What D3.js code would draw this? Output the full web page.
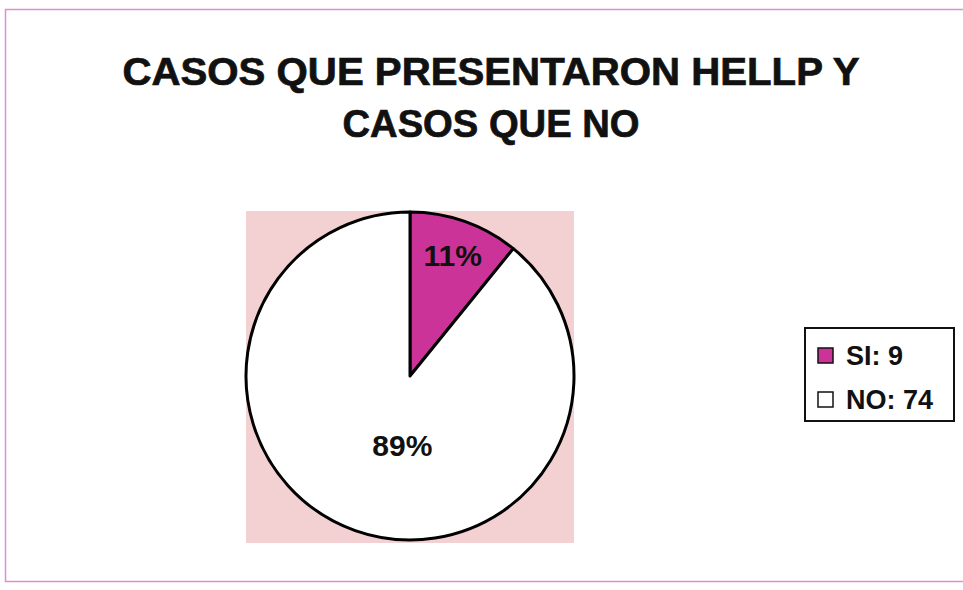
<!DOCTYPE html>
<html>
<head>
<meta charset="utf-8">
<script src="https://cdn.jsdelivr.net/npm/d3@7"></script>
<style>
  html, body { margin: 0; padding: 0; background: #fff; }
  svg { display: block; font-family: "Liberation Sans", Arial, sans-serif; }
</style>
</head>
<body>
<script>
// chart data
const titleLines = ["CASOS QUE PRESENTARON HELLP Y", "CASOS QUE NO"];
const categories = ["SI", "NO"];
const counts = [9, 74];
const sliceColors = ["#cc3399", "#ffffff"];

const svgWidth = 963;
const svgHeight = 590;

const svg = d3.select("body")
    .append("svg")
    .attr("width", svgWidth)
    .attr("height", svgHeight);

// outer chart border (pink)
svg.append("rect")
    .attr("x", 5.5)
    .attr("y", 9.5)
    .attr("width", 975)
    .attr("height", 572)
    .attr("fill", "#fff")
    .attr("stroke", "#dc8fd2")
    .attr("stroke-width", 1.5);

// title
const titleWidths = [737, 297];
svg.append("g")
    .selectAll("text")
    .data(titleLines)
    .enter()
    .append("text")
    .attr("x", 491)
    .attr("y", (d, i) => 85 + i * 52)
    .attr("text-anchor", "middle")
    .attr("font-size", 38)
    .attr("font-weight", "bold")
    .attr("fill", "#111")
    .attr("stroke", "#111")
    .attr("stroke-width", 0.7)
    .attr("textLength", (d, i) => titleWidths[i])
    .attr("lengthAdjust", "spacingAndGlyphs")
    .text(d => d);

// plot area
const plot = {left: 246, top: 211, width: 328, height: 332};
svg.append("rect")
    .attr("x", plot.left)
    .attr("y", plot.top)
    .attr("width", plot.width)
    .attr("height", plot.height)
    .attr("fill", "#f3d0d1");

const radius = 164;
const cx = plot.left + plot.width / 2;
const cy = plot.top + plot.height / 2 - 1;

const pie = d3.pie().sort(null).value(d => d);
const arcs = pie(counts);
const total = d3.sum(counts);

const arc = d3.arc().innerRadius(0).outerRadius(radius);

const g = svg.append("g")
    .attr("transform", `translate(${cx},${cy})`);

g.selectAll("path")
    .data(arcs)
    .enter()
    .append("path")
    .attr("d", arc)
    .attr("fill", (d, i) => sliceColors[i])
    .attr("stroke", "#000")
    .attr("stroke-width", 3)
    .attr("stroke-linejoin", "round");

// percentage labels
const labelRadius = [0.78, 0.45];
const labelShift = [0, 17];
g.selectAll("text.pct")
    .data(arcs)
    .enter()
    .append("text")
    .attr("class", "pct")
    .attr("transform", (d, i) => {
        const r = radius * labelRadius[i];
        const c = d3.arc().innerRadius(r).outerRadius(r).centroid(d);
        return `translate(${c[0] + labelShift[i]},${c[1]})`;
    })
    .attr("dy", "0.36em")
    .attr("text-anchor", "middle")
    .attr("font-size", 30)
    .attr("font-weight", "bold")
    .attr("fill", "#111")
    .text(d => Math.round(d.value / total * 100) + "%");

// legend
const legend = svg.append("g")
    .attr("transform", "translate(805,328)");

legend.append("rect")
    .attr("width", 149)
    .attr("height", 93)
    .attr("fill", "#fff")
    .attr("stroke", "#111")
    .attr("stroke-width", 2);

const items = legend.selectAll("g.item")
    .data(categories)
    .enter()
    .append("g")
    .attr("class", "item")
    .attr("transform", (d, i) => `translate(13,${20 + i * 44})`);

items.append("rect")
    .attr("width", 15)
    .attr("height", 15)
    .attr("fill", (d, i) => sliceColors[i])
    .attr("stroke", "#111")
    .attr("stroke-width", 1.5);

items.append("text")
    .attr("x", 28)
    .attr("y", 17)
    .attr("font-size", 27)
    .attr("font-weight", "bold")
    .attr("fill", "#111")
    .text((d, i) => `${d}: ${counts[i]}`);
</script>
</body>
</html>
